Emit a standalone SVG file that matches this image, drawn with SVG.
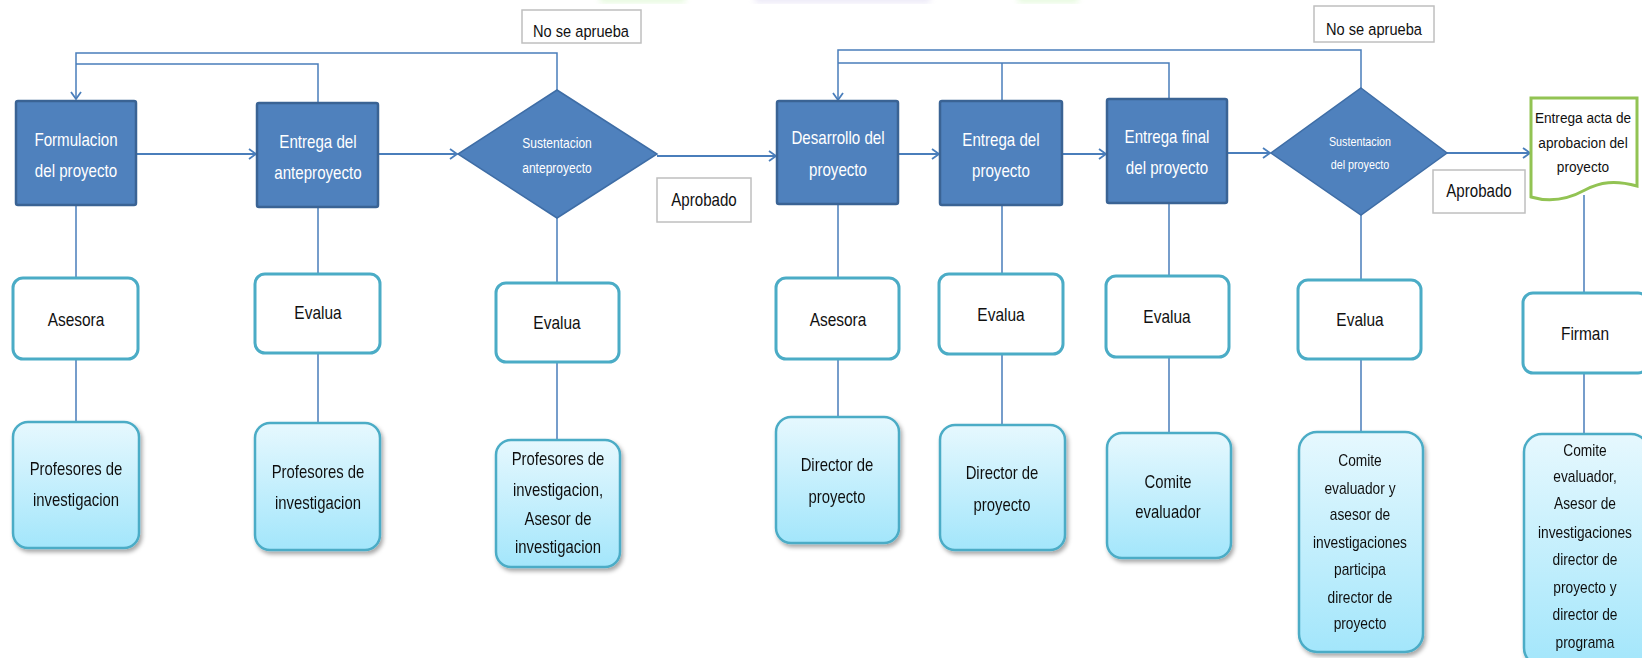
<svg xmlns="http://www.w3.org/2000/svg" width="1642" height="658" viewBox="0 0 1642 658">
<defs>
<style>
.proc{fill:#4F81BD;stroke:#3A6394;stroke-width:2.5}
.dia{fill:#4F81BD;stroke:#3E6DA6;stroke-width:1.5}
.wt{fill:#fff;font-family:"Liberation Sans",sans-serif;text-anchor:middle}
.bt{fill:#111;font-family:"Liberation Sans",sans-serif;text-anchor:middle}
.mid{fill:#fff;stroke:#4BACC6;stroke-width:3}
.low{fill:url(#cy);stroke:#4BACC6;stroke-width:2.5}
.lab{fill:#fff;stroke:#BFBFBF;stroke-width:1.5}
.c{fill:none;stroke:#4A7EBB;stroke-width:1.5}
.h{fill:none;stroke:#4A7EBB;stroke-width:2;marker-end:url(#ar)}
</style>
<linearGradient id="cy" x1="0" y1="0" x2="0" y2="1">
<stop offset="0" stop-color="#E6F8FE"/>
<stop offset="1" stop-color="#A3E6FB"/>
</linearGradient>
<filter id="sh" x="-10%" y="-10%" width="130%" height="130%">
<feDropShadow dx="2" dy="3" stdDeviation="2" flood-color="#000" flood-opacity="0.35"/>
</filter>
<filter id="bl"><feGaussianBlur stdDeviation="3"/></filter>
<marker id="ar" markerUnits="userSpaceOnUse" markerWidth="12" markerHeight="14" refX="8" refY="6" orient="auto">
<path d="M1,1 L8,6 L1,11" fill="none" stroke="#4A7EBB" stroke-width="1.8"/>
</marker>
</defs>
<rect width="1642" height="658" fill="#fff"/>
<g opacity="0.35" filter="url(#bl)">
<rect x="600" y="-6" width="85" height="9" fill="#B8F0A0"/>
<rect x="755" y="-6" width="175" height="9" fill="#C8C0E8"/>
<rect x="1018" y="-6" width="60" height="9" fill="#B8F0A0"/>
</g>

<g id="connectors">
<path class="c" d="M557,90 V53 H76 V99" marker-end="url(#ar)"/>
<path class="c" d="M318,103 V64 H76"/>
<path class="c" d="M1361,88 V50 H838 V100" marker-end="url(#ar)"/>
<path class="c" d="M1169,99 V63 H838"/>
<path class="c" d="M1002,63 V101"/>
<path class="h" d="M136,154 H256"/>
<path class="h" d="M378,154 H457"/>
<path class="h" d="M657,156 H776"/>
<path class="h" d="M898,154 H939"/>
<path class="h" d="M1062,154 H1106"/>
<path class="h" d="M1227,153 H1270"/>
<path class="h" d="M1447,153 H1530"/>
<path class="c" d="M76,205 V278 M76,359 V422"/>
<path class="c" d="M318,207 V274 M318,353 V423"/>
<path class="c" d="M557,218 V283 M557,362 V440"/>
<path class="c" d="M838,204 V278 M838,359 V417"/>
<path class="c" d="M1002,205 V274 M1002,354 V425"/>
<path class="c" d="M1169,203 V276 M1169,357 V433"/>
<path class="c" d="M1361,215 V280 M1361,359 V432"/>
<path class="c" d="M1584,195 V293 M1584,373 V434"/>
</g>

<g id="lab-no1"><rect class="lab" x="522" y="10" width="119" height="33"/><text class="bt" x="581" y="37" font-size="17" transform="matrix(.86 0 0 1 81.34 0)">No se aprueba</text></g>
<g id="lab-no2"><rect class="lab" x="1314" y="6" width="120" height="36"/><text class="bt" x="1374" y="35" font-size="17" transform="matrix(.86 0 0 1 192.36 0)">No se aprueba</text></g>
<g id="lab-ap1"><rect class="lab" x="657" y="178" width="94" height="44"/><text class="bt" x="704" y="206" font-size="18" transform="matrix(.84 0 0 1 112.64 0)">Aprobado</text></g>
<g id="lab-ap2"><rect class="lab" x="1433" y="170" width="92" height="43"/><text class="bt" x="1479" y="197" font-size="18" transform="matrix(.84 0 0 1 236.64 0)">Aprobado</text></g>

<g id="n-formulacion"><rect class="proc" x="16" y="101" width="120" height="104" rx="2"/><text class="wt" font-size="18" transform="matrix(.84 0 0 1 12.16 0)"><tspan x="76" y="146">Formulacion</tspan><tspan x="76" y="177">del proyecto</tspan></text></g>
<g id="n-entrega-ante"><rect class="proc" x="257" y="103" width="121" height="104" rx="2"/><text class="wt" font-size="18" transform="matrix(.84 0 0 1 50.88 0)"><tspan x="318" y="148">Entrega del</tspan><tspan x="318" y="179">anteproyecto</tspan></text></g>
<g id="n-sust-ante"><polygon class="dia" points="557,90 657,154 557,218 458,154"/><text class="wt" font-size="14" transform="matrix(.86 0 0 1 77.98 0)"><tspan x="557" y="148">Sustentacion</tspan><tspan x="557" y="173">anteproyecto</tspan></text></g>
<g id="n-desarrollo"><rect class="proc" x="777" y="101" width="121" height="103" rx="2"/><text class="wt" font-size="18" transform="matrix(.84 0 0 1 134.08 0)"><tspan x="838" y="144">Desarrollo del</tspan><tspan x="838" y="176">proyecto</tspan></text></g>
<g id="n-entrega-proy"><rect class="proc" x="940" y="101" width="122" height="104" rx="2"/><text class="wt" font-size="18" transform="matrix(.84 0 0 1 160.16 0)"><tspan x="1001" y="146">Entrega del</tspan><tspan x="1001" y="177">proyecto</tspan></text></g>
<g id="n-entrega-final"><rect class="proc" x="1107" y="99" width="120" height="104" rx="2"/><text class="wt" font-size="18" transform="matrix(.84 0 0 1 186.72 0)"><tspan x="1167" y="143">Entrega final</tspan><tspan x="1167" y="174">del proyecto</tspan></text></g>
<g id="n-sust-proy"><polygon class="dia" points="1361,88 1447,153 1361,215 1271,153"/><text class="wt" font-size="12.5" transform="matrix(.86 0 0 1 190.4 0)"><tspan x="1360" y="146">Sustentacion</tspan><tspan x="1360" y="169">del proyecto</tspan></text></g>
<g id="n-acta"><path d="M1531,98 H1637 V186 C1615,180 1600,182 1585,190 C1565,201 1548,202 1531,197 Z" fill="#fff" stroke="#92C353" stroke-width="3"/><text class="bt" font-size="15.5" transform="matrix(.88 0 0 1 189.96 0)"><tspan x="1583" y="123">Entrega acta de</tspan><tspan x="1583" y="148">aprobacion del</tspan><tspan x="1583" y="172">proyecto</tspan></text></g>

<g id="m-asesora1"><rect class="mid" x="13" y="278" width="125" height="81" rx="10"/><text class="bt" x="76" y="326" font-size="18" transform="matrix(.86 0 0 1 10.64 0)">Asesora</text></g>
<g id="m-evalua1"><rect class="mid" x="255" y="274" width="125" height="79" rx="10"/><text class="bt" x="318" y="319" font-size="18" transform="matrix(.86 0 0 1 44.52 0)">Evalua</text></g>
<g id="m-evalua2"><rect class="mid" x="496" y="283" width="123" height="79" rx="10"/><text class="bt" x="557" y="329" font-size="18" transform="matrix(.86 0 0 1 77.98 0)">Evalua</text></g>
<g id="m-asesora2"><rect class="mid" x="776" y="278" width="123" height="81" rx="10"/><text class="bt" x="838" y="326" font-size="18" transform="matrix(.86 0 0 1 117.32 0)">Asesora</text></g>
<g id="m-evalua3"><rect class="mid" x="939" y="274" width="124" height="80" rx="10"/><text class="bt" x="1001" y="321" font-size="18" transform="matrix(.86 0 0 1 140.14 0)">Evalua</text></g>
<g id="m-evalua4"><rect class="mid" x="1106" y="276" width="123" height="81" rx="10"/><text class="bt" x="1167" y="323" font-size="18" transform="matrix(.86 0 0 1 163.38 0)">Evalua</text></g>
<g id="m-evalua5"><rect class="mid" x="1298" y="280" width="123" height="79" rx="10"/><text class="bt" x="1360" y="326" font-size="18" transform="matrix(.86 0 0 1 190.4 0)">Evalua</text></g>
<g id="m-firman"><rect class="mid" x="1523" y="293" width="125" height="80" rx="10"/><text class="bt" x="1585" y="340" font-size="18" transform="matrix(.86 0 0 1 221.9 0)">Firman</text></g>

<g id="l-prof1" filter="url(#sh)"><rect class="low" x="13" y="422" width="126" height="126" rx="15"/><text class="bt" font-size="17.5" transform="matrix(.85 0 0 1 11.4 0)"><tspan x="76" y="475">Profesores de</tspan><tspan x="76" y="506">investigacion</tspan></text></g>
<g id="l-prof2" filter="url(#sh)"><rect class="low" x="255" y="423" width="125" height="127" rx="15"/><text class="bt" font-size="17.5" transform="matrix(.85 0 0 1 47.7 0)"><tspan x="318" y="478">Profesores de</tspan><tspan x="318" y="509">investigacion</tspan></text></g>
<g id="l-prof3" filter="url(#sh)"><rect class="low" x="496" y="440" width="124" height="127" rx="15"/><text class="bt" font-size="17.5" transform="matrix(.85 0 0 1 83.7 0)"><tspan x="558" y="465">Profesores de</tspan><tspan x="558" y="496">investigacion,</tspan><tspan x="558" y="525">Asesor de</tspan><tspan x="558" y="553">investigacion</tspan></text></g>
<g id="l-dir1" filter="url(#sh)"><rect class="low" x="776" y="417" width="123" height="126" rx="15"/><text class="bt" font-size="17.5" transform="matrix(.85 0 0 1 125.55 0)"><tspan x="837" y="471">Director de</tspan><tspan x="837" y="503">proyecto</tspan></text></g>
<g id="l-dir2" filter="url(#sh)"><rect class="low" x="940" y="425" width="125" height="125" rx="15"/><text class="bt" font-size="17.5" transform="matrix(.85 0 0 1 150.3 0)"><tspan x="1002" y="479">Director de</tspan><tspan x="1002" y="511">proyecto</tspan></text></g>
<g id="l-comite1" filter="url(#sh)"><rect class="low" x="1107" y="433" width="124" height="125" rx="15"/><text class="bt" font-size="17.5" transform="matrix(.85 0 0 1 175.2 0)"><tspan x="1168" y="488">Comite</tspan><tspan x="1168" y="518">evaluador</tspan></text></g>
<g id="l-comite2" filter="url(#sh)"><rect class="low" x="1299" y="432" width="124" height="220" rx="18"/><text class="bt" font-size="16" transform="matrix(.86 0 0 1 190.4 0)"><tspan x="1360" y="466">Comite</tspan><tspan x="1360" y="494">evaluador y</tspan><tspan x="1360" y="520">asesor de</tspan><tspan x="1360" y="548">investigaciones</tspan><tspan x="1360" y="575">participa</tspan><tspan x="1360" y="603">director de</tspan><tspan x="1360" y="629">proyecto</tspan></text></g>
<g id="l-comite3" filter="url(#sh)"><rect class="low" x="1524" y="434" width="125" height="232" rx="18"/><text class="bt" font-size="16" transform="matrix(.86 0 0 1 221.9 0)"><tspan x="1585" y="456">Comite</tspan><tspan x="1585" y="482">evaluador,</tspan><tspan x="1585" y="509">Asesor de</tspan><tspan x="1585" y="538">investigaciones</tspan><tspan x="1585" y="565">director de</tspan><tspan x="1585" y="593">proyecto  y</tspan><tspan x="1585" y="620">director de</tspan><tspan x="1585" y="648">programa</tspan></text></g>
</svg>
